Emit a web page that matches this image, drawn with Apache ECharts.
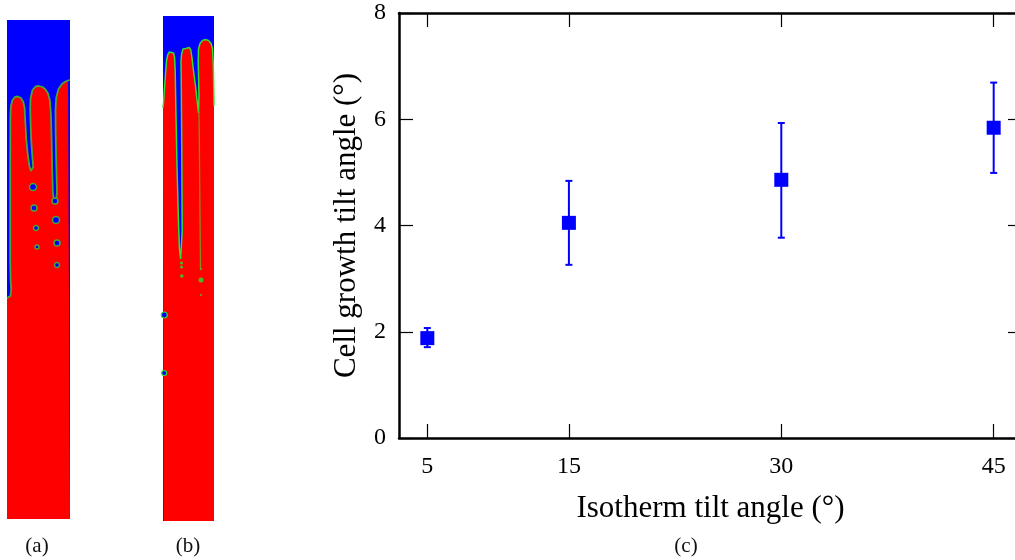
<!DOCTYPE html>
<html>
<head>
<meta charset="utf-8">
<title>Cell growth tilt angle</title>
<script src="https://cdn.jsdelivr.net/npm/echarts@6/dist/echarts.min.js"></script>
<style>
  html, body { margin: 0; padding: 0; background: #fff; }
  #chart { width: 1015px; height: 560px; }
</style>
</head>
<body>
<div id="chart"></div>
<script>
// (c) measured tilt angles
const isothermAngles = [5, 15, 30, 45];
const growthAngles = [1.88, 4.05, 4.86, 5.84];
const growthLow = [1.71, 3.26, 3.77, 4.99];
const growthHigh = [2.07, 4.84, 5.93, 6.69];
const xTicks = [5, 15, 30, 45];

// (a) solid/liquid interface, in panel units (x across, y down from the top)
const profileA = [
  [0, 278], [1.5, 280], [3.5, 276], [4.2, 269], [3.6, 260], [3.2, 240], [3.2, 150], [3.4, 95],
  [4, 86], [5.5, 80], [8, 77], [11, 76.5], [14, 78], [16.3, 82], [17.6, 88], [18.2, 100],
  [19.3, 120], [20.8, 135], [22.4, 146], [23.8, 151], [25.6, 151.5], [26.2, 147], [25.2, 135],
  [24.2, 120], [23.5, 100], [23.2, 88], [23.6, 78], [25.5, 70], [28.5, 66.5], [32, 66], [35.5, 67],
  [38.5, 69.5], [41, 73.5], [42.8, 80], [44, 95], [44.6, 120], [45.2, 150], [45.8, 172],
  [46.8, 180], [49, 181.5], [50, 172], [49.2, 140], [48.6, 110], [48.5, 90], [49.2, 78],
  [51.5, 69], [55, 64], [58.5, 61.5], [61, 60.5], [63, 60]
];
// droplets: x, y, diameter
const dropletsA = [
  [26, 167, 7], [27, 188, 6], [29, 208, 5], [30, 227, 4],
  [48, 181, 6], [49, 200, 7], [50, 223, 6], [50, 245, 5]
];

// (b)
const profileB = [
  [0, 92], [0.6, 86], [1.5, 72], [2.5, 58], [3.5, 45], [4.8, 38.5], [6.5, 36], [8.5, 35.5],
  [10.5, 37], [11.6, 42], [12.2, 55], [13, 100], [14, 150], [15.3, 200], [16.4, 232],
  [17.6, 243], [19, 241], [19.2, 215], [19, 180], [18.8, 140], [18.5, 100], [18.2, 60],
  [18, 45], [18.6, 38], [20, 33], [21.5, 31.5], [23, 32.5], [24.5, 31], [26.2, 31.5],
  [27.8, 34], [29, 42], [30.5, 55], [32.5, 70], [34.5, 88], [35.5, 97], [36.2, 95],
  [36, 80], [35.6, 62], [35.2, 45], [35.5, 33], [37, 27.5], [39.5, 24.5], [42.5, 23.5],
  [45.5, 24.5], [48, 27.5], [49.6, 33], [50.3, 50], [50.7, 70], [51, 90]
];
const seamB = [[35.9, 95], [36.3, 120], [36.8, 180], [37.3, 230], [37.5, 254]];
const blueDropsB = [[1.3, 299, 6], [1.2, 357, 5]];
const greenDropsB = [[18.5, 247, 3], [18.5, 251, 3], [18.8, 260, 3.5], [38, 264, 5], [38, 253, 2], [38, 279, 2]];

const RED = '#ff0000';
const BLUE = '#0000ff';
const GREEN_A = '#4aa23a';
const GREEN_B = '#30e030';
const SERIF = '"Liberation Serif", "DejaVu Serif", serif';

const chart = echarts.init(document.getElementById('chart'));

const hidden = { show: false };
const tickStyle = { show: true, inside: true, length: 14, lineStyle: { color: '#000', width: 1.2 } };
const boxLine = { show: true, onZero: false, lineStyle: { color: '#000', width: 2.5 } };

chart.setOption({
  animation: false,
  backgroundColor: '#fff',
  grid: [
    { left: 7, top: 20, width: 63, height: 499, show: true, backgroundColor: BLUE, borderWidth: 0, outerBoundsMode: 'none' },
    { left: 163, top: 16, width: 51, height: 505, show: true, backgroundColor: BLUE, borderWidth: 0, outerBoundsMode: 'none' },
    { left: 399, top: 13, right: -7, bottom: 122, outerBoundsMode: 'none' }
  ],
  xAxis: [
    { gridIndex: 0, type: 'value', min: 0, max: 63, ...hidden },
    { gridIndex: 1, type: 'value', min: 0, max: 51, ...hidden },
    {
      gridIndex: 2, type: 'value', min: 3, max: 47, position: 'bottom',
      axisLine: boxLine,
      axisTick: { ...tickStyle, customValues: xTicks },
      axisLabel: { customValues: xTicks, color: '#000', fontSize: 24, fontFamily: SERIF, margin: 17 },
      splitLine: { show: false },
      name: 'Isotherm tilt angle (°)', nameLocation: 'middle', nameGap: 55,
      nameTextStyle: { color: '#000', fontSize: 31, fontFamily: SERIF }
    },
    {
      gridIndex: 2, type: 'value', min: 3, max: 47, position: 'top',
      axisLine: boxLine,
      axisTick: { ...tickStyle, customValues: xTicks },
      axisLabel: { show: false },
      splitLine: { show: false }
    }
  ],
  yAxis: [
    { gridIndex: 0, type: 'value', min: 0, max: 499, inverse: true, ...hidden },
    { gridIndex: 1, type: 'value', min: 0, max: 505, inverse: true, ...hidden },
    {
      gridIndex: 2, type: 'value', min: 0, max: 8, interval: 2, position: 'left',
      axisLine: boxLine,
      axisTick: tickStyle,
      axisLabel: { color: '#000', fontSize: 24, fontFamily: SERIF, margin: 13 },
      splitLine: { show: false },
      name: 'Cell growth tilt angle (°)', nameLocation: 'middle', nameGap: 37, nameRotate: 90,
      nameTextStyle: { color: '#000', fontSize: 31, fontFamily: SERIF }
    },
    {
      gridIndex: 2, type: 'value', min: 0, max: 8, interval: 2, position: 'right',
      axisLine: boxLine,
      axisTick: tickStyle,
      axisLabel: { show: false },
      splitLine: { show: false }
    }
  ],
  graphic: [
    { type: 'text', x: 37, y: 546, style: { text: '(a)', font: '21px ' + SERIF, fill: '#111', align: 'center', verticalAlign: 'middle' } },
    { type: 'text', x: 188, y: 546, style: { text: '(b)', font: '21px ' + SERIF, fill: '#111', align: 'center', verticalAlign: 'middle' } },
    { type: 'text', x: 686, y: 546, style: { text: '(c)', font: '21px ' + SERIF, fill: '#111', align: 'center', verticalAlign: 'middle' } }
  ],
  series: [
    {
      type: 'line', xAxisIndex: 0, yAxisIndex: 0, data: profileA, showSymbol: false, silent: true,
      lineStyle: { color: GREEN_A, width: 1.8 },
      areaStyle: { color: RED, opacity: 1, origin: 'end' }
    },
    {
      type: 'scatter', xAxisIndex: 0, yAxisIndex: 0, data: dropletsA, silent: true, z: 6,
      symbolSize: v => v[2],
      itemStyle: { color: BLUE, borderColor: GREEN_A, borderWidth: 1.5, opacity: 1 }
    },
    {
      type: 'line', xAxisIndex: 1, yAxisIndex: 1, data: profileB, showSymbol: false, silent: true,
      lineStyle: { color: GREEN_B, width: 1.5 },
      areaStyle: { color: RED, opacity: 1, origin: 'end' }
    },
    {
      type: 'line', xAxisIndex: 1, yAxisIndex: 1, data: seamB, showSymbol: false, silent: true,
      lineStyle: { color: '#8a8a10', width: 1.3 }
    },
    {
      type: 'scatter', xAxisIndex: 1, yAxisIndex: 1, data: blueDropsB, silent: true, z: 6,
      symbolSize: v => v[2],
      itemStyle: { color: BLUE, borderColor: GREEN_B, borderWidth: 1.2, opacity: 1 }
    },
    {
      type: 'scatter', xAxisIndex: 1, yAxisIndex: 1, data: greenDropsB, silent: true, z: 6,
      symbolSize: v => v[2],
      itemStyle: { color: '#40c020', opacity: 1 }
    },
    {
      type: 'custom', xAxisIndex: 2, yAxisIndex: 2,
      data: isothermAngles.map((x, i) => [x, growthLow[i], growthHigh[i]]),
      encode: { x: 0, y: [1, 2] },
      renderItem: (params, api) => {
        const lo = api.coord([api.value(0), api.value(1)]);
        const hi = api.coord([api.value(0), api.value(2)]);
        const cap = 3.5;
        const style = { stroke: BLUE, lineWidth: 2 };
        return {
          type: 'group',
          children: [
            { type: 'line', shape: { x1: lo[0], y1: lo[1], x2: hi[0], y2: hi[1] }, style },
            { type: 'line', shape: { x1: lo[0] - cap, y1: lo[1], x2: lo[0] + cap, y2: lo[1] }, style },
            { type: 'line', shape: { x1: hi[0] - cap, y1: hi[1], x2: hi[0] + cap, y2: hi[1] }, style }
          ]
        };
      }
    },
    {
      type: 'scatter', xAxisIndex: 2, yAxisIndex: 2,
      data: isothermAngles.map((x, i) => [x, growthAngles[i]]),
      symbol: 'rect', symbolSize: 14,
      itemStyle: { color: BLUE, opacity: 1 },
      z: 5
    }
  ]
});
</script>
</body>
</html>
